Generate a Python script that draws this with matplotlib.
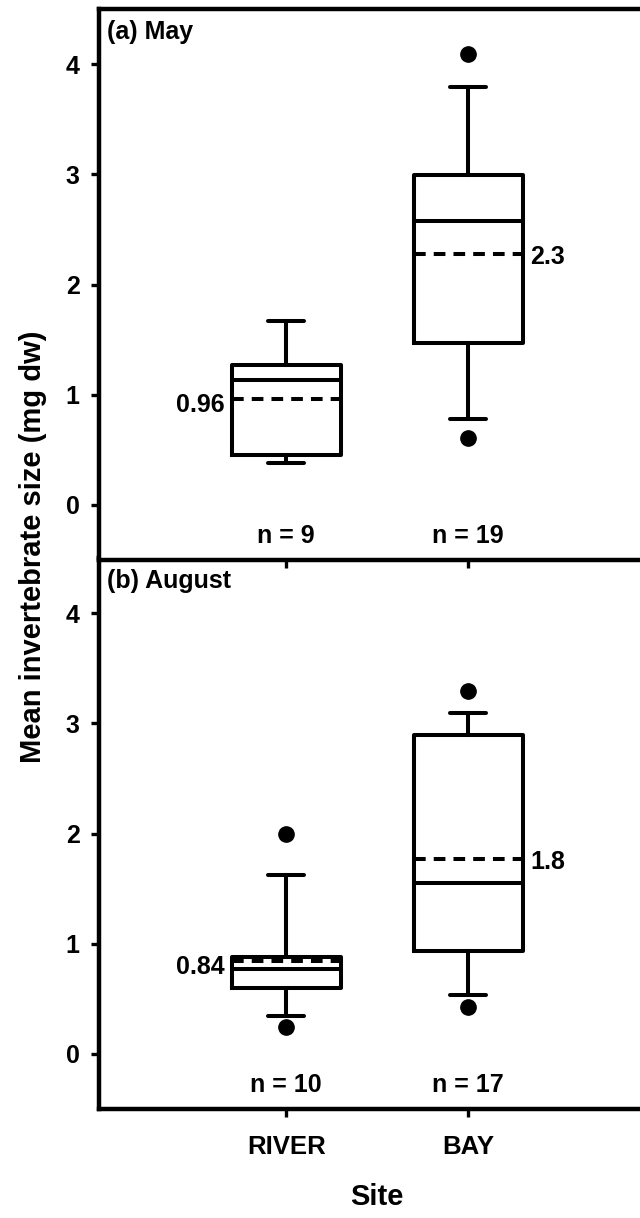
import matplotlib
matplotlib.use("Agg")
import matplotlib.pyplot as plt

plt.rcParams['font.family'] = ['Liberation Sans', 'DejaVu Sans']
plt.rcParams['font.weight'] = 'bold'

# dados
sites = ["RIVER", "BAY"]

may_q1 = [0.45, 1.47]
may_med = [1.13, 2.58]
may_q3 = [1.27, 2.99]
may_lo = [0.38, 0.78]
may_hi = [1.67, 3.79]
may_mean = [0.96, 2.28]
may_fliers = [[], [4.09, 0.61]]
may_n = [9, 19]
may_mean_txt = ["0.96", "2.3"]

aug_q1 = [0.60, 0.93]
aug_med = [0.77, 1.55]
aug_q3 = [0.88, 2.89]
aug_lo = [0.34, 0.53]
aug_hi = [1.62, 3.09]
aug_mean = [0.84, 1.77]
aug_fliers = [[2.0, 0.24], [3.29, 0.43]]
aug_n = [10, 17]
aug_mean_txt = ["0.84", "1.8"]

lw = 2.9
fig = plt.figure(figsize=(6.4, 12.18), dpi=100)
ax_b = fig.add_axes([99/640, 109/1218, 541/640, 551/1218])
ax_a = fig.add_axes([99/640, 658/1218, 541/640, 551/1218])


def painel(ax, q1, med, q3, lo, hi, mean, fliers, n, mean_txt, titulo):
    stats = []
    for i in range(len(sites)):
        stats.append(dict(q1=q1[i], med=med[i], q3=q3[i], whislo=lo[i],
                          whishi=hi[i], mean=mean[i], fliers=fliers[i]))
    ax.bxp(stats, positions=[1, 2], widths=0.6, capwidths=0.2,
           showmeans=True, meanline=True,
           boxprops=dict(color='black', lw=lw),
           medianprops=dict(color='black', lw=lw),
           whiskerprops=dict(color='black', lw=lw),
           capprops=dict(color='black', lw=lw, solid_capstyle='round'),
           meanprops=dict(color='black', lw=lw, linestyle=(0, (2.9, 2.0))),
           flierprops=dict(marker='o', markerfacecolor='black',
                           markeredgecolor='black', markersize=11))
    ax.text(1 - 0.34, mean[0] - 0.05, mean_txt[0], ha='right', va='center',
            fontsize=18, fontweight='bold')
    ax.text(2 + 0.34, mean[1] - 0.03, mean_txt[1], ha='left', va='center',
            fontsize=18, fontweight='bold')
    for i in range(len(sites)):
        ax.text(i + 1, -0.28, "n = %d" % n[i], ha='center', va='center',
                fontsize=18, fontweight='bold')
    ax.text(0.015, 0.98, titulo, transform=ax.transAxes, ha='left', va='top',
            fontsize=18, fontweight='bold')
    ax.set_ylim(-0.5, 4.5)
    ax.set_xlim(-0.03, 2.945)
    ax.set_yticks([0, 1, 2, 3, 4])
    ax.set_xticks([1, 2])
    ax.spines['right'].set_visible(False)
    for s in ['left', 'top', 'bottom']:
        ax.spines[s].set_linewidth(3.2)
    ax.tick_params(direction='out', length=6, width=2.4, labelsize=18, pad=8)
    for lab in ax.get_yticklabels():
        lab.set_fontweight('bold')


painel(ax_a, may_q1, may_med, may_q3, may_lo, may_hi, may_mean, may_fliers,
       may_n, may_mean_txt, "(a) May")
painel(ax_b, aug_q1, aug_med, aug_q3, aug_lo, aug_hi, aug_mean, aug_fliers,
       aug_n, aug_mean_txt, "(b) August")

ax_a.set_xticklabels([])
ax_b.set_xticklabels(sites, fontsize=18.5, fontweight='bold')
ax_b.tick_params(axis='x', pad=13)

fig.text(33/640, 0.551, "Mean invertebrate size (mg dw)", rotation=90,
         ha='center', va='center', fontsize=21, fontweight='bold')
fig.text(377/640, 0.017, "Site", ha='center', va='center', fontsize=21,
         fontweight='bold')

fig.savefig("out.png", dpi=100)
